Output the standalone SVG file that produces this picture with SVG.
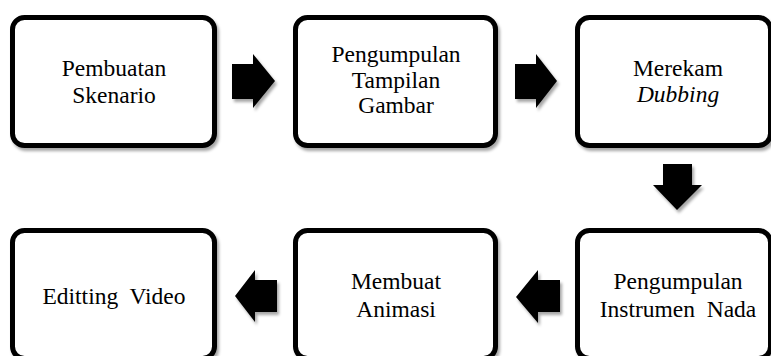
<svg xmlns="http://www.w3.org/2000/svg" width="771" height="356" viewBox="0 0 771 356">
  <defs>
    <filter id="sh" x="-10%" y="-10%" width="130%" height="130%">
      <feDropShadow dx="2" dy="3" stdDeviation="1.5" flood-color="#000" flood-opacity="0.35"/>
    </filter>
    <style>
      .box { fill: #fff; stroke: #000; stroke-width: 5; filter: url(#sh); }
      .lbl { font-family: 'Liberation Serif', 'Times New Roman', Tinos, 'Noto Serif', 'DejaVu Serif', Times, serif; font-size: 23.5px; fill: #000; text-anchor: middle; }
      .arr { fill: #000; filter: url(#sh); }
    </style>
  </defs>
  <rect width="771" height="356" fill="#fff"/>

  <g id="node-pembuatan-skenario">
    <rect class="box" x="12.5" y="17.5" width="202" height="128" rx="12"/>
    <text class="lbl" x="114" y="76">Pembuatan</text>
    <text class="lbl" x="114" y="103">Skenario</text>
  </g>

  <g id="node-pengumpulan-tampilan-gambar">
    <rect class="box" x="295.5" y="17.5" width="200" height="128" rx="12"/>
    <text class="lbl" x="396" y="62">Pengumpulan</text>
    <text class="lbl" x="396" y="88">Tampilan</text>
    <text class="lbl" x="396" y="113">Gambar</text>
  </g>

  <g id="node-merekam-dubbing">
    <rect class="box" x="577.5" y="17.5" width="193" height="128" rx="12"/>
    <text class="lbl" x="678" y="76">Merekam</text>
    <text class="lbl" x="678" y="102" font-style="italic">Dubbing</text>
  </g>

  <g id="node-pengumpulan-instrumen-nada">
    <rect class="box" x="577.5" y="230.5" width="193" height="128" rx="12"/>
    <text class="lbl" x="678" y="289">Pengumpulan</text>
    <text class="lbl" x="678" y="317" xml:space="preserve">Instrumen  Nada</text>
  </g>

  <g id="node-membuat-animasi">
    <rect class="box" x="295.5" y="230.5" width="200" height="128" rx="12"/>
    <text class="lbl" x="396" y="289">Membuat</text>
    <text class="lbl" x="396" y="317">Animasi</text>
  </g>

  <g id="node-editting-video">
    <rect class="box" x="12.5" y="230.5" width="202" height="128" rx="12"/>
    <text class="lbl" x="114" y="304" xml:space="preserve">Editting  Video</text>
  </g>

  <g id="connectors">
    <polygon class="arr" points="232,64 253,64 253,54 275,81 253,108 253,99 232,99"/>
    <polygon class="arr" points="515,64 536,64 536,54 557,81 536,108 536,99 515,99"/>
    <polygon class="arr" points="663,164 692,164 692,185 702,185 677,210 653,185 663,185"/>
    <polygon class="arr" points="560,280 538,280 538,270 516,297 538,323 538,312 560,312"/>
    <polygon class="arr" points="277,280 255,280 255,270 235,296 255,322 255,312 277,312"/>
  </g>
</svg>
